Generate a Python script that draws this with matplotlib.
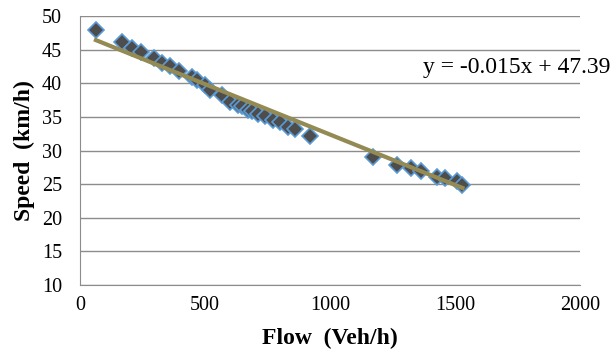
import numpy as np
import matplotlib.pyplot as plt

plt.rcParams['font.family'] = ['Liberation Serif', 'DejaVu Serif']

# data
flow = [64, 167, 209, 244, 296, 327, 360, 397, 447, 467, 500, 520, 567, 600,
        633, 650, 673, 690, 713, 740, 773, 800, 833, 860, 920,
        1173, 1269, 1323, 1364, 1427, 1460, 1507, 1527]
speed = [48.0, 46.1, 45.3, 44.7, 43.7, 43.1, 42.6, 41.8, 41.0, 40.5, 39.7, 39.0, 38.3, 37.2,
         36.8, 36.6, 36.0, 35.9, 35.5, 35.2, 34.5, 34.3, 33.5, 33.2, 32.2,
         29.1, 27.9, 27.4, 27.0, 26.1, 25.9, 25.4, 24.9]
slope = -0.015
intercept = 47.39

fig = plt.figure(figsize=(6.15, 3.51), dpi=100)
ax = fig.add_axes([0.130, 0.188, 0.813, 0.766])

ax.plot(flow, speed, 'D', color='#4d4d4d', markeredgecolor='#5b9bd5',
        markeredgewidth=1.2, markersize=8, zorder=3)

xl = np.array([min(flow), 1530])
ax.plot(xl, slope * xl + intercept, color='#948a54', lw=3, zorder=4)

ax.text(1372, 42.3, f"y = {slope}x + {intercept}", fontsize=17,
        va='center', ha='left', clip_on=False)

ax.set_xlim(0, 2000)
ax.set_ylim(10, 50)
ax.set_xticks([0, 500, 1000, 1500, 2000])
ax.set_yticks(range(10, 51, 5))
ax.grid(axis='y', color='#8c8c8c', lw=1)
ax.set_axisbelow(True)
for s in ['top', 'right']:
    ax.spines[s].set_visible(False)
for s in ['left', 'bottom']:
    ax.spines[s].set_color('#8c8c8c')
ax.tick_params(length=0, labelsize=14.5)
ax.tick_params(axis='x', pad=8)
ax.tick_params(axis='y', pad=13)

ax.set_xlabel('Flow  (Veh/h)', fontsize=17, fontweight='bold', labelpad=9)
ax.set_ylabel('Speed  (km/h)', fontsize=17, fontweight='bold', labelpad=5)

fig.savefig('out.png', dpi=100)
